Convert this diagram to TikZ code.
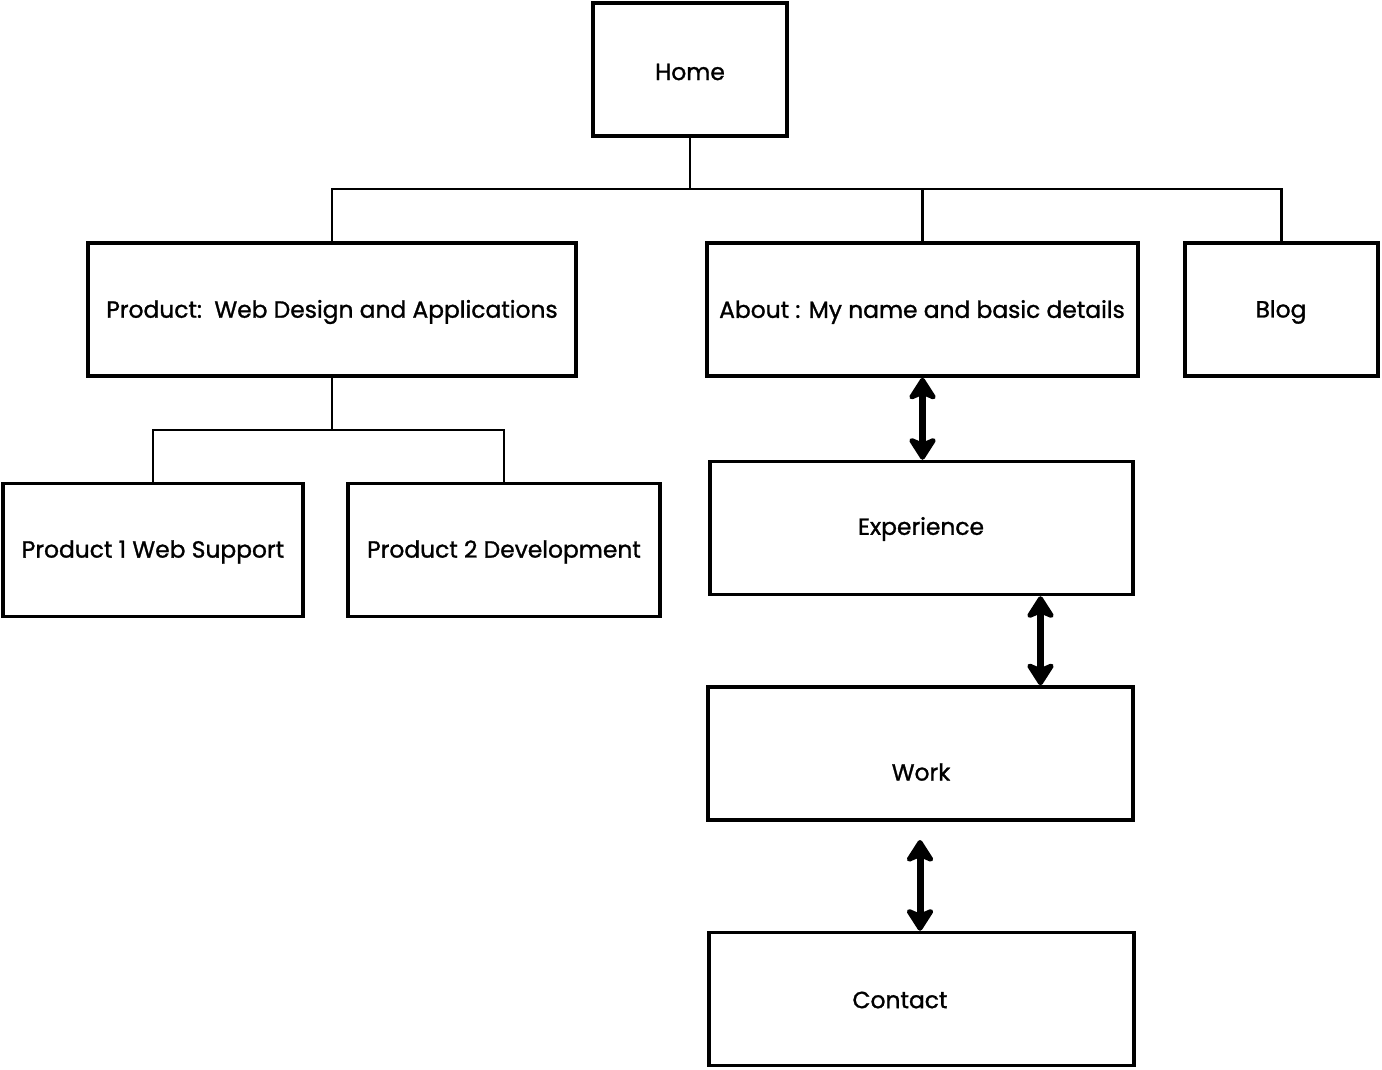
\documentclass[tikz,border=0pt]{standalone}
\usepackage{fontspec}
\setmainfont{Poppins}[FakeBold=1.2]
\usetikzlibrary{positioning}
\usetikzlibrary{arrows.meta,calc}
\tikzstyle{page}=[rectangle,draw,line width=2pt,inner sep=0pt,minimum height=2.66cm]
\tikzstyle{pagetext}=[font=\fontsize{13.3}{15}\selectfont]
\tikzstyle{branch} = [draw,line width=1.2pt]
\tikzstyle{twoway} = [draw,line width=4pt,{Stealth[round,length=15pt,width=19pt,inset=4pt]}-{Stealth[round,length=15pt,width=19pt,inset=4pt]}]

\begin{document}
\begin{tikzpicture}

  \def\u{0.02};
  \useasboundingbox (0,0) rectangle (1382*\u,-1070*\u);

  \foreach \x/\y/\w/\name in { 690/69.5/194/home, 332/309.5/488/product, 922.5/309.5/431/about,
          1281.5/309.5/193/blog, 153/550/300/prodone, 504/550/312/prodtwo,
          921.5/528/423/experience, 920.5/753.5/425/work, 921.5/999/425/contact}
          \node[page,minimum width=\w*\u cm] (\name) at (\x*\u, -\y*\u) {};

  \foreach \x/\y/\name/\label in { 690/72/hometext/Home, 332/312/producttext/{Product:\ \ Web Design and Applications},
          922/312/abouttext/{About : My name and basic details}, 1281/312/blogtext/Blog,
          153/552/prodonetext/{Product 1 Web Support}, 504/552/prodtwotext/{Product 2 Development},
          921/529/experiencetext/Experience, 921/772/worktext/Work, 900/1000/contacttext/Contact}
          \node[pagetext] (\name) at (\x*\u, -\y*\u) {\label};

  \coordinate (hub) at (690*\u, -189*\u);
  \coordinate (fork) at (332*\u, -430*\u);
  \coordinate (arrowtop) at (920*\u, -840*\u);

  \path[branch] (home.south) -- (hub);
  \foreach \dest in {product, about, blog}
         \path[branch] (hub) -| (\dest.north);

  \path[branch] (product.south) -- (fork);
  \foreach \dest in {prodone, prodtwo}
         \path[branch] (fork) -| (\dest.north);

  \path[twoway] (about.south) -- (about.south |- experience.north);
  \path[twoway] ([xshift=2.38cm]experience.south) -- ([xshift=2.38cm]experience.south |- work.north);
  \path[twoway] (arrowtop) -- (arrowtop |- contact.north);

\end{tikzpicture}
\end{document}
